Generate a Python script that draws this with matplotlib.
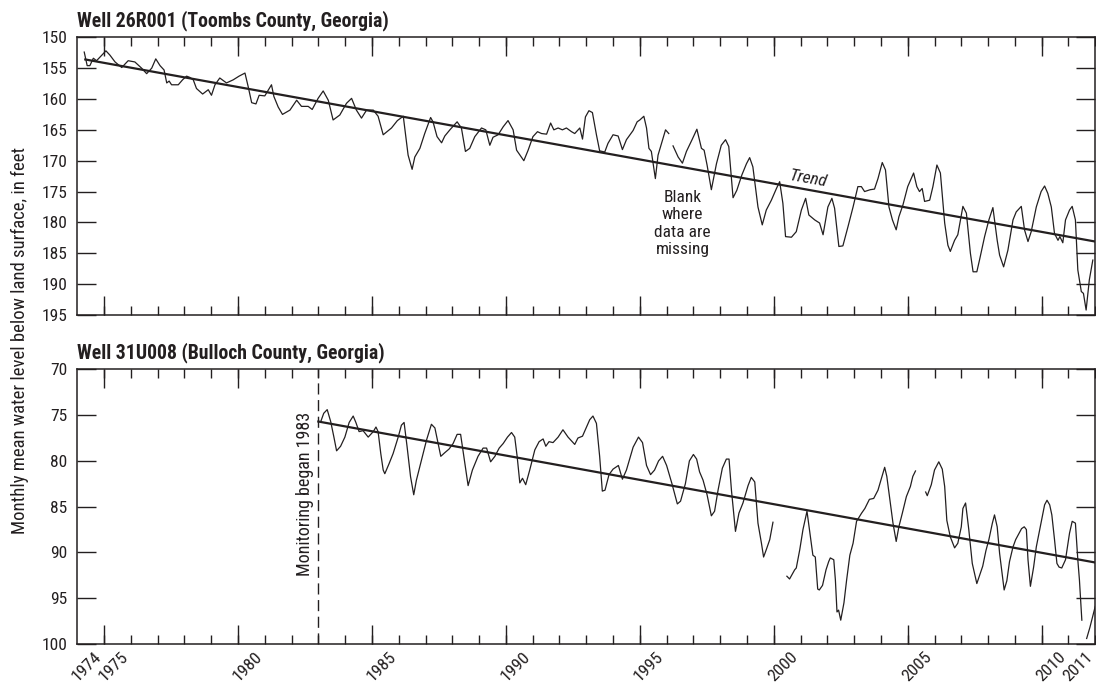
import numpy as np
import matplotlib
matplotlib.use("Agg")
import matplotlib.pyplot as plt
from matplotlib import font_manager
from matplotlib.ticker import FixedLocator

ink = '#231f20'

# Well 26R001 monthly mean water level (ft below land surface)
top_year = [1974.26, 1974.37, 1974.47, 1974.60, 1974.72, 1975.07, 1975.22, 1975.41, 1975.66, 1975.90,
            1976.15, 1976.40, 1976.59, 1976.78, 1976.93, 1977.09, 1977.24, 1977.34, 1977.43, 1977.52,
            1977.77, 1977.93, 1978.08, 1978.20, 1978.33, 1978.45, 1978.68, 1978.89, 1979.01, 1979.14,
            1979.32, 1979.57, 1979.82, 1980.04, 1980.26, 1980.38, 1980.51, 1980.67, 1980.79, 1981.00,
            1981.25, 1981.34, 1981.50, 1981.66, 1981.94, 1982.19, 1982.37, 1982.62, 1982.77, 1982.99,
            1983.18, 1983.37, 1983.55, 1983.80, 1984.05, 1984.24, 1984.42, 1984.61, 1984.80, 1985.05,
            1985.23, 1985.42, 1985.73, 1985.95, 1986.17, 1986.35, 1986.50, 1986.60, 1986.79, 1986.97,
            1987.19, 1987.28, 1987.43, 1987.60, 1987.72, 1987.91, 1988.18, 1988.34, 1988.49, 1988.65,
            1988.84, 1989.09, 1989.25, 1989.40, 1989.52, 1989.71, 1989.90, 1990.08, 1990.27, 1990.40,
            1990.67, 1990.83, 1991.01, 1991.18, 1991.33, 1991.52, 1991.67, 1991.79, 1991.95, 1992.11,
            1992.26, 1992.45, 1992.57, 1992.76, 1992.86, 1992.97, 1993.10, 1993.23, 1993.38, 1993.50,
            1993.69, 1993.81, 1994.00, 1994.19, 1994.35, 1994.50, 1994.75, 1994.90, 1995.00, 1995.15,
            1995.25, 1995.34, 1995.43, 1995.58, 1995.68, 1995.83, 1995.96, 1996.08, 1996.16, 1996.24,
            1996.43, 1996.59, 1996.74, 1996.96, 1997.13, 1997.30, 1997.40, 1997.51, 1997.67, 1997.86,
            1998.04, 1998.20, 1998.32, 1998.48, 1998.62, 1998.81, 1998.98, 1999.10, 1999.22, 1999.41,
            1999.57, 1999.72, 1999.91, 2000.10, 2000.22, 2000.34, 2000.44, 2000.66, 2000.84, 2001.03,
            2001.19, 2001.31, 2001.53, 2001.71, 2001.84, 2002.02, 2002.17, 2002.27, 2002.43, 2002.58,
            2002.77, 2002.96, 2003.14, 2003.27, 2003.39, 2003.60, 2003.76, 2003.89, 2004.05, 2004.17,
            2004.30, 2004.43, 2004.57, 2004.67, 2004.82, 2005.00, 2005.22, 2005.34, 2005.44, 2005.54,
            2005.63, 2005.82, 2005.94, 2006.09, 2006.22, 2006.38, 2006.50, 2006.59, 2006.75, 2006.87,
            2007.06, 2007.19, 2007.34, 2007.44, 2007.58, 2007.68, 2007.87, 2008.03, 2008.18, 2008.34,
            2008.43, 2008.58, 2008.74, 2008.93, 2009.05, 2009.24, 2009.36, 2009.49, 2009.61, 2009.80,
            2009.98, 2010.11, 2010.23, 2010.36, 2010.48, 2010.61, 2010.68, 2010.79, 2010.89, 2011.04,
            2011.14, 2011.26, 2011.35, 2011.48, 2011.56, 2011.66, 2011.78, 2011.91]
top_level = [152.4, 154.6, 154.6, 153.4, 153.8, 152.2, 152.9, 154.0, 154.9, 153.8,
             154.0, 155.0, 155.9, 155.0, 153.5, 154.6, 155.3, 157.4, 157.1, 157.7,
             157.7, 156.9, 156.3, 156.5, 156.9, 158.3, 159.2, 158.5, 159.4, 157.7,
             156.6, 157.4, 156.9, 156.3, 155.8, 158.0, 160.6, 160.8, 159.4, 159.5,
             157.7, 159.6, 161.3, 162.5, 161.8, 160.2, 161.2, 161.2, 161.7, 159.9,
             158.7, 160.2, 163.4, 162.6, 160.7, 159.9, 161.8, 163.1, 161.8, 161.8,
             162.8, 165.8, 164.7, 163.5, 162.8, 169.1, 171.4, 169.4, 168.0, 165.6,
             163.0, 163.7, 166.1, 167.1, 166.0, 165.0, 163.7, 164.7, 168.5, 168.0,
             166.1, 164.7, 165.0, 167.5, 166.2, 165.8, 164.5, 163.5, 165.0, 168.3,
             170.0, 168.3, 166.1, 165.3, 165.6, 165.7, 163.9, 165.0, 164.7, 165.0,
             164.7, 165.3, 165.6, 164.7, 166.5, 162.9, 161.9, 162.2, 165.8, 168.4,
             168.6, 167.2, 165.8, 166.0, 168.2, 166.6, 165.1, 163.7, 163.4, 162.8,
             164.7, 168.0, 168.5, 172.9, 169.1, 166.9, 165.0, 165.6, np.nan, 167.6,
             169.4, 170.4, 168.5, 166.5, 164.9, 168.0, 168.3, 170.7, 174.7, 170.5,
             167.5, 166.6, 167.7, 176.0, 174.8, 172.3, 170.5, 169.5, 171.0, 177.5,
             180.4, 178.0, 176.4, 174.5, 173.4, 176.9, 182.3, 182.4, 181.5, 178.0,
             176.1, 178.8, 179.6, 180.1, 182.0, 177.5, 176.1, 177.7, 183.9, 183.8,
             180.7, 177.5, 174.2, 174.2, 175.0, 174.7, 174.6, 172.9, 170.3, 171.5,
             177.5, 179.6, 181.2, 179.1, 177.2, 174.2, 172.0, 174.2, 175.0, 174.5,
             176.6, 176.4, 174.2, 170.7, 172.0, 180.1, 183.7, 184.7, 182.9, 182.0,
             177.4, 178.5, 185.0, 188.0, 188.0, 186.1, 182.3, 179.6, 177.6, 182.9,
             185.3, 187.2, 184.5, 179.6, 178.3, 177.4, 181.2, 183.1, 181.5, 177.5,
             175.0, 174.1, 175.3, 177.5, 181.8, 182.9, 182.3, 183.3, 179.6, 178.0,
             177.4, 179.6, 187.7, 191.2, 191.5, 194.2, 189.3, 186.1]
top_trend_year = [1974.3, 2012.0]
top_trend_level = [153.6, 183.1]

# Well 31U008 monthly mean water level (ft below land surface)
bot_year = [1983.09, 1983.20, 1983.33, 1983.46, 1983.58, 1983.68, 1983.83, 1983.99, 1984.15, 1984.30,
            1984.40, 1984.52, 1984.67, 1984.86, 1985.05, 1985.15, 1985.23, 1985.33, 1985.42, 1985.48,
            1985.64, 1985.79, 1985.98, 1986.10, 1986.20, 1986.31, 1986.44, 1986.56, 1986.66, 1986.85,
            1987.04, 1987.22, 1987.35, 1987.47, 1987.57, 1987.72, 1987.88, 1988.03, 1988.18, 1988.31,
            1988.43, 1988.59, 1988.75, 1988.96, 1989.15, 1989.28, 1989.43, 1989.59, 1989.75, 1989.90,
            1990.06, 1990.21, 1990.33, 1990.42, 1990.52, 1990.62, 1990.74, 1990.89, 1991.08, 1991.24,
            1991.39, 1991.49, 1991.61, 1991.76, 1991.95, 1992.13, 1992.32, 1992.57, 1992.69, 1992.86,
            1993.01, 1993.13, 1993.25, 1993.38, 1993.50, 1993.60, 1993.70, 1993.85, 1994.00, 1994.20,
            1994.35, 1994.50, 1994.75, 1994.95, 1995.10, 1995.25, 1995.40, 1995.55, 1995.70, 1995.85,
            1996.00, 1996.20, 1996.40, 1996.52, 1996.70, 1996.85, 1997.00, 1997.12, 1997.23, 1997.36,
            1997.51, 1997.67, 1997.79, 1997.92, 1998.08, 1998.23, 1998.33, 1998.42, 1998.57, 1998.70,
            1998.85, 1999.04, 1999.16, 1999.29, 1999.41, 1999.54, 1999.62, 1999.72, 1999.85, 1999.97,
            2000.20, 2000.49, 2000.59, 2000.78, 2000.84, 2000.97, 2001.09, 2001.24, 2001.37, 2001.46,
            2001.55, 2001.64, 2001.70, 2001.82, 2001.95, 2002.05, 2002.11, 2002.24, 2002.30, 2002.36,
            2002.42, 2002.50, 2002.62, 2002.72, 2002.84, 2002.96, 2003.09, 2003.28, 2003.40, 2003.57,
            2003.73, 2003.89, 2004.02, 2004.14, 2004.22, 2004.32, 2004.45, 2004.57, 2004.67, 2004.80,
            2004.95, 2005.10, 2005.19, 2005.29, 2005.50, 2005.67, 2005.73, 2005.88, 2006.00, 2006.16,
            2006.29, 2006.38, 2006.46, 2006.59, 2006.75, 2006.87, 2007.00, 2007.06, 2007.16, 2007.28,
            2007.41, 2007.58, 2007.80, 2007.92, 2008.03, 2008.16, 2008.24, 2008.34, 2008.43, 2008.60,
            2008.70, 2008.80, 2008.93, 2009.03, 2009.25, 2009.35, 2009.43, 2009.49, 2009.58, 2009.70,
            2009.80, 2009.95, 2010.11, 2010.20, 2010.30, 2010.38, 2010.48, 2010.57, 2010.65, 2010.75,
            2010.89, 2011.04, 2011.14, 2011.26, 2011.35, 2011.41, 2011.50, 2011.60, 2011.68, 2011.80,
            2012.00]
bot_level = [75.7, 74.8, 74.4, 75.7, 77.4, 78.9, 78.4, 77.4, 75.8, 75.1,
             75.8, 76.8, 76.7, 77.4, 76.8, 76.3, 76.8, 79.2, 81.0, 81.4,
             80.3, 79.2, 77.4, 76.1, 75.8, 78.4, 81.7, 83.7, 82.1, 79.9,
             77.7, 76.0, 76.4, 78.1, 79.5, 79.1, 78.7, 78.1, 77.1, 77.1,
             79.5, 82.7, 81.0, 79.5, 78.6, 78.6, 80.1, 79.5, 78.6, 78.1,
             77.4, 76.9, 77.4, 79.5, 82.4, 81.9, 82.6, 81.0, 78.8, 77.9,
             77.6, 78.4, 77.9, 78.0, 77.4, 76.6, 77.4, 78.2, 77.5, 77.3,
             76.3, 75.5, 75.1, 75.9, 79.5, 83.3, 83.2, 81.5, 80.9, 80.5,
             82.0, 81.0, 78.5, 77.4, 78.0, 80.5, 81.5, 81.0, 80.0, 79.5,
             80.5, 82.5, 84.7, 84.4, 82.5, 80.0, 79.3, 79.8, 81.2, 82.1,
             83.7, 86.0, 85.5, 83.2, 80.8, 79.8, 79.8, 83.2, 87.7, 85.7,
             84.6, 82.7, 81.8, 82.3, 86.8, 89.0, 90.5, 89.7, 88.6, 86.7,
             np.nan, 92.6, 92.9, 91.9, 91.7, 89.7, 87.5, 85.5, 88.3, 90.3,
             90.5, 94.0, 94.1, 93.6, 91.9, 91.0, 90.6, 90.8, 93.0, 96.5,
             96.3, 97.4, 95.5, 93.0, 90.3, 89.0, 86.6, 85.7, 85.2, 84.2,
             84.1, 83.2, 81.9, 80.7, 81.7, 83.9, 86.8, 88.8, 87.2, 85.7,
             83.9, 82.8, 81.7, 81.1, np.nan, 83.4, 83.8, 82.6, 81.0, 80.1,
             80.9, 82.8, 86.5, 88.3, 89.5, 89.0, 87.2, 85.2, 84.6, 87.5,
             91.2, 93.4, 91.5, 89.8, 88.6, 86.8, 85.9, 87.2, 90.1, 94.1,
             93.1, 91.0, 89.4, 88.6, 87.4, 87.2, 87.5, 90.8, 93.7, 91.6,
             89.4, 87.2, 84.8, 84.3, 84.8, 85.9, 88.6, 91.2, 91.6, 91.7,
             90.8, 87.9, 86.6, 86.8, 90.8, 93.0, 97.4, np.nan, 99.4, 98.2,
             95.9]
bot_trend_year = [1983.0, 2012.0]
bot_trend_level = [75.7, 91.1]
monitor_start = 1983.0

label_years = [1974, 1975, 1980, 1985, 1990, 1995, 2000, 2005, 2010, 2011]

# pick a narrow sans if one is installed, else an Arial-like face
fonts = font_manager.fontManager.ttflist
names = {f.name for f in fonts}
family, stretch, k = 'Liberation Sans', 'normal', 0.94
for cand in ['Liberation Sans Narrow', 'Roboto Condensed', 'Open Sans Condensed',
             'Noto Sans Condensed', 'DejaVu Sans Condensed']:
    if cand in names:
        family, stretch, k = cand, 'normal', 1.0
        break
else:
    for cand in ['Noto Sans', 'Open Sans', 'Roboto', 'DejaVu Sans']:
        cond = [f for f in fonts if f.name == cand and
                str(f.stretch) in ('condensed', 'semi-condensed', 'extra-condensed', '75', '87.5')]
        if cond:
            family, stretch, k = cand, 'condensed', 1.0
            break
plt.rcParams['font.family'] = [family, 'DejaVu Sans']
plt.rcParams['font.stretch'] = stretch

fig = plt.figure(figsize=(10.96, 6.9), dpi=100)
ax1 = fig.add_axes([0.0705, 0.5435, 0.9288, 0.4025])
ax2 = fig.add_axes([0.0705, 0.0667, 0.9288, 0.398])


def style_axis(ax, ymin, ymax, labels):
    ax.set_xlim(1974, 2012)
    ax.set_ylim(ymax, ymin)
    ax.set_yticks(range(ymin, ymax + 1, 5))
    yearly = list(range(1975, 2013))
    ax.xaxis.set_major_locator(FixedLocator(yearly))
    ax.xaxis.set_minor_locator(FixedLocator(range(1975, 2011, 5)))
    ax.xaxis.remove_overlapping_locs = False
    if labels:
        ticknames = [str(y - 1) if (y - 1) in label_years else '' for y in yearly]
    else:
        ticknames = ['' for y in yearly]
    ax.set_xticklabels(ticknames)
    ax.tick_params(axis='x', which='major', direction='in', length=6.5, width=1.0,
                   top=True, bottom=True, color=ink, labelcolor=ink, labelsize=12.5 * k, pad=4)
    ax.tick_params(axis='x', which='minor', direction='in', length=13.5, width=1.0,
                   top=True, bottom=True, color=ink)
    ax.tick_params(axis='y', direction='in', length=13.5, width=1.0, left=True, right=True,
                   color=ink, labelcolor=ink, labelsize=12.5 * k, pad=7)
    for s in ax.spines.values():
        s.set_color(ink)
        s.set_linewidth(1.1)
    if labels:
        for t in ax.get_xticklabels():
            t.set_rotation(45)
            t.set_ha('right')


style_axis(ax1, 150, 195, False)
style_axis(ax2, 70, 100, True)

ax1.plot(top_year, top_level, color=ink, lw=0.9)
ax1.plot(top_trend_year, top_trend_level, color=ink, lw=1.6)
ax2.plot(bot_year, bot_level, color=ink, lw=0.9)
ax2.plot(bot_trend_year, bot_trend_level, color=ink, lw=1.6)
ax2.axvline(monitor_start, color=ink, lw=1.0, ls=(0, (8, 4)))

ax1.set_title('Well 26R001 (Toombs County, Georgia)', loc='left', fontsize=14.2 * k,
              fontweight='bold', color=ink, pad=8)
ax2.set_title('Well 31U008 (Bulloch County, Georgia)', loc='left', fontsize=14.2 * k,
              fontweight='bold', color=ink, pad=8)

ax1.text(2001.3, 173.0, 'Trend', rotation=-10, style='italic', fontsize=12.5 * k,
         color=ink, ha='center', va='center')
ax1.text(1996.6, 180.2, 'Blank\nwhere\ndata are\nmissing', fontsize=12.5 * k, color=ink,
         ha='center', va='center', linespacing=1.2)
ax2.text(1982.5, 83.6, 'Monitoring began 1983', rotation=90, fontsize=13 * k, color=ink,
         ha='center', va='center')

fig.text(0.018, 0.507, 'Monthly mean water level below land surface, in feet',
         rotation=90, fontsize=13.5 * k, color=ink, ha='center', va='center')

fig.savefig('out.png', dpi=100)
